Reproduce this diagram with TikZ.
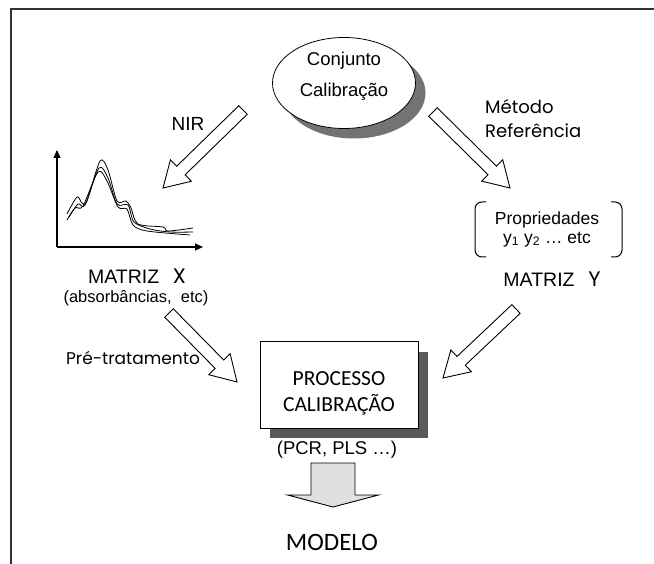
\documentclass[tikz,border=0pt]{standalone}
\usepackage{fontspec}
\setmainfont{Liberation Sans}
\newfontfamily\gothicfont{Poppins}
\newfontfamily\calibfont{Carlito}
\usetikzlibrary{arrows.meta, positioning, calc, shapes.geometric, shadows}

\newcommand{\fs}[2]{\fontsize{#1}{#2}\selectfont}

% hollow block arrow: [style]{from}{to}{half shaft}{half head}{head length}
\newcommand{\blockarrow}[6][hollow]{%
  \coordinate (hb) at ($(#3)!#6pt!(#2)$);
  \draw[#1] ($(#2)!#4pt!90:(#3)$) -- ($(hb)!#4pt!90:(#3)$) -- ($(hb)!#5pt!90:(#3)$)
    -- (#3) -- ($(hb)!#5pt!-90:(#3)$) -- ($(hb)!#4pt!-90:(#3)$) -- ($(#2)!#4pt!-90:(#3)$) -- cycle;
}

\tikzset{
  lbl/.style={inner sep=0pt, align=center},
  hollow/.style={draw, line width=0.9pt, fill=white, line join=miter},
  downarr/.style={hollow, fill=black!12},
  axis/.style={line width=1.2pt, -{Triangle[length=8pt, width=7pt]}},
  spec/.style={line width=0.8pt},
  bracket/.style={line width=1pt, rounded corners=7pt},
}

\begin{document}
\begin{tikzpicture}[x=1pt, y=-1pt]
\useasboundingbox (0,0) rectangle (654,564);

% frame
\draw[line width=2pt, black!80] (11,564) -- (11,9) -- (654,9);

% calibration set
\node[ellipse, draw, fill=white, line width=0.8pt, minimum width=143pt, minimum height=91pt,
      drop shadow={shadow xshift=10pt, shadow yshift=-10pt, fill=black!55, opacity=1}] (conj) at (344,83) {};
\node[lbl, font=\fs{18.5}{31}] (conjtxt) at ($(conj.center)+(0,-7)$) {Conjunto\\Calibração};

\node[lbl, font=\fs{19}{20}] (nir) at (188,124) {NIR};
\node[lbl, align=left, anchor=west, font=\gothicfont\fs{18}{24}] (metodo) at (485,119) {Método\\Referência};

% spectra
\coordinate (orig) at (57,247);
\coordinate (ytop) at (57,150);
\coordinate (xend) at (203,247);
\draw[axis] (orig) -- (ytop);
\draw[axis] (orig) -- (xend);
\draw[spec] plot[smooth, tension=0.5] coordinates {(67,214) (77,197) (82,203) (87,201) (100,161) (108,170) (117,201) (126,201) (131,208) (138,224) (163,227) (168,231) (193,228)};
\draw[spec] plot[smooth, tension=0.5] coordinates {(67,220) (75,208) (83,206) (98,172) (107,181) (118,207) (127,209) (133,225) (147,231) (190,235)};
\draw[spec] plot[smooth, tension=0.5] coordinates {(69,217) (78,204) (85,205) (99,168) (108,178) (117,204) (128,205) (134,222) (150,229) (170,232) (193,232)};

\node[lbl, font=\fs{19.5}{20}] (matx) at (137,276) {MATRIZ\hspace{0.7em}{\gothicfont\fs{21}{21}X}};
\node[lbl, font=\fs{16.5}{18}] (absx) at (136,298) {(absorbâncias, \ etc)};

% properties
\node[lbl, font=\fs{17.5}{19}] (prop) at (547,229) {Propriedades\\y\textsubscript{1} y\textsubscript{2} … etc};
\draw[bracket] (486,202) -- (475,202) -- (475,257) -- (486,257);
\draw[bracket] (611,202) -- (622,202) -- (622,257) -- (611,257);
\node[lbl, font=\fs{19.5}{20}] (maty) at (552,279) {MATRIZ\hspace{0.7em}{\gothicfont\fs{21}{21}Y}};

% calibration process
\node[draw, fill=white, line width=1pt, minimum width=158pt, minimum height=86pt,
      drop shadow={shadow xshift=10pt, shadow yshift=-10pt, fill=black!65, opacity=1}] (proc) at (339,385) {};
\node[lbl, font=\calibfont\fs{21.5}{26}] (proctxt) at ($(proc.center)+(0,8)$) {PROCESSO\\CALIBRAÇÃO};
\node[lbl, font=\fs{18.5}{20}] (pcr) at (337,450) {(PCR, PLS …)};
\node[lbl, font=\calibfont\fs{25}{26}] (modelo) at (332,542) {MODELO};

\node[lbl, font=\gothicfont\fs{17}{20}] (pretrat) at (133,358) {Pré-tratamento};

% arrows
\coordinate (nirA) at (243,110);
\coordinate (nirB) at (163,188);
\coordinate (refA) at (433,112);
\coordinate (refB) at (510,188);
\coordinate (preA) at (169,313);
\coordinate (preB) at (237,382);
\coordinate (matyA) at (516,309);
\coordinate (matyB) at (443,378);
\coordinate (dtop) at (333,463);
\coordinate (dtip) at (333,507);
\blockarrow{nirA}{nirB}{6}{15}{25}
\blockarrow{refA}{refB}{6}{15}{25}
\blockarrow{preA}{preB}{6}{15}{25}
\blockarrow{matyA}{matyB}{6}{15}{25}
\blockarrow[downarr]{dtop}{dtip}{22}{45.5}{12}
\end{tikzpicture}
\end{document}
